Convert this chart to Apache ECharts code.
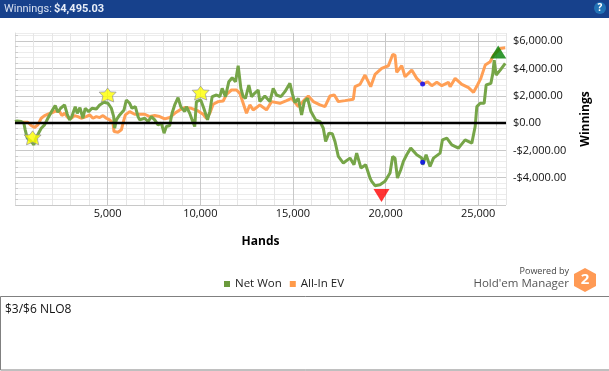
<!DOCTYPE html>
<html>
<head>
<meta charset="utf-8">
<title>Winnings</title>
<script src="https://cdn.jsdelivr.net/npm/echarts@6/dist/echarts.min.js"></script>
<style>
  html, body { margin: 0; padding: 0; background: #fff; }
  #chart { width: 609px; height: 371px; }
</style>
</head>
<body>
<div id="chart"></div>
<script>
// [hands, dollars]
var netWon = [
  [0,113],[120,160],[330,113],[480,-9],[550,-495],[660,-1104],[840,-1298],[1020,-1590],[1130,-1104],[1270,-739],
  [1415,-374],[1595,-130],[1775,356],[1990,891],[2170,1281],[2315,794],[2460,1086],[2675,1329],[2820,648],[2945,234],
  [3070,478],[3250,1208],[3360,721],[3505,1135],[3665,356],[3790,1086],[3975,843],[4155,1086],[4390,1037],[4570,1329],
  [4800,1524],[5020,1451],[5200,1086],[5325,478],[5380,-374],[5470,234],[5650,600],[5885,964],[6010,1694],[6190,1451],
  [6315,1086],[6495,1208],[6640,478],[6730,234],[6820,235],[7000,356],[7180,113],[7360,478],[7540,235],[7720,-130],
  [7900,-9],[8045,-739],[8170,-252],[8350,-179],[8475,721],[8620,1330],[8800,1865],[8945,1208],[9160,843],[9250,1208],
  [9430,721],[9560,235],[9700,-252],[9790,1573],[10025,1694],[10190,1086],[10390,235],[10515,843],[10640,1938],[10875,2059],
  [11055,1938],[11180,2546],[11360,1938],[11540,3033],[11720,3325],[11900,3033],[12045,4200],[12190,2546],[12315,1938],[12440,1816],
  [12620,2790],[12765,1938],[12945,2200],[13125,2424],[13215,1573],[13485,1986],[13755,1573],[13935,2546],[14115,2059],[14350,1938],
  [14567,2303],[14837,2911],[14963,2181],[15107,1500],[15288,1816],[15468,600],[15612,1573],[15792,1816],[15972,843],[16225,235],
  [16458,113],[16640,-374],[16765,-1347],[16945,-739],[17125,-787],[17270,-1347],[17450,-2442],[17720,-2928],[18080,-2563],[18295,-3050],
  [18440,-2198],[18675,-3293],[18927,-3050],[19160,-4023],[19250,-4267],[19430,-4583],[19700,-4510],[19970,-4267],[20240,-3659],[20385,-2442],
  [20510,-2564],[20640,-4023],[20820,-3415],[20962,-2807],[21142,-2320],[21358,-1834],[21682,-2320],[21953,-2564],[22007,-3050],[22187,-2320],
  [22400,-3172],[22585,-2564],[22945,-2199],[23070,-1226],[23305,-1104],[23575,-1591],[23935,-1834],[24295,-1226],[24656,-1469],[24836,-250],
  [24926,1208],[25106,1451],[25322,1451],[25430,2790],[25683,2911],[25790,3641],[25863,4614],[25970,3519],[26187,3884],[26458,4371]
];
var allInEv = [
  [0,113],[330,64],[690,64],[875,-179],[1055,-325],[1235,-130],[1415,356],[1595,551],[1775,648],[2045,794],
  [2225,891],[2405,843],[2530,551],[2675,721],[2855,405],[3035,356],[3215,551],[3395,478],[3575,356],[3845,478],
  [4030,600],[4205,356],[4390,478],[4570,405],[4750,551],[4930,356],[5110,234],[5290,-9],[5345,-617],[5560,-666],
  [5740,-495],[5830,-9],[5955,600],[6190,843],[6460,648],[6730,648],[7000,648],[7270,478],[7540,551],[7810,478],
  [8080,308],[8350,405],[8620,721],[8890,965],[9160,1135],[9520,1086],[9880,892],[10150,648],[10330,356],[10515,721],
  [10695,1378],[10965,1573],[11235,1621],[11415,2108],[11685,2424],[11955,2424],[12135,2181],[12315,1451],[12495,721],[12675,1330],
  [12855,965],[13035,1135],[13215,1330],[13575,965],[13845,1573],[14297,1451],[14657,1646],[14927,1816],[15288,1208],[15648,1743],
  [15828,1986],[16100,1573],[16458,1330],[16729,1208],[17000,1986],[17234,2059],[17450,1573],[17810,1646],[18260,1743],[18350,2668],
  [18620,2838],[18890,3519],[19197,2668],[19431,3568],[19791,4006],[20152,4201],[20386,5028],[20510,4980],[20602,3714],[20873,4201],
  [21053,3398],[21413,3884],[21684,3276],[22008,2838],[22260,3033],[22494,2741],[22765,2984],[23035,2741],[23396,2984],[23486,2668],
  [23756,3276],[24116,2838],[24477,2595],[24747,2254],[24962,2790],[25142,3276],[25377,4249],[25647,4492],[25827,4979],[26187,5466],
  [26458,5514]
];
var stars = [[950,-1080],[5000,2060],[10020,2200]];
var blueDots = [[22000,2860],[22000,-2870]];
var lowMark = [[19780,-5310]];
var highMark = [[26080,5200]];

var zeroLine = [[0,0],[26500,0]];

var labelFont = '"Open Sans", sans-serif';
var headerFont = 'Roboto, sans-serif';
var starPath = 'path://M50 0 L67 28 L100 30 L78 58 L86 100 L50 82 L14 100 L22 58 L0 30 L33 28 Z';

function money(v) {
  var s = Math.abs(v).toLocaleString('en-US', { minimumFractionDigits: 2, maximumFractionDigits: 2 });
  return (v < 0 ? '-$' : '$') + s;
}

var chart = echarts.init(document.getElementById('chart'));
chart.setOption({
  animation: false,
  grid: { left: 15, right: 103, top: 33, bottom: 166 },
  legend: {
    left: 219, top: 273,
    data: ['Net Won', 'All-In EV'],
    icon: 'rect', itemWidth: 6, itemHeight: 6, itemGap: 8,
    textStyle: { fontFamily: labelFont, fontSize: 11.5, color: '#222' }
  },
  xAxis: {
    type: 'value', min: 0, max: 26500, interval: 1000,
    name: 'Hands', nameLocation: 'middle', nameGap: 31,
    nameTextStyle: { fontFamily: labelFont, fontSize: 12, fontWeight: 'bold', color: '#000' },
    axisLine: { lineStyle: { color: '#ccc' } },
    axisTick: { length: 3, lineStyle: { color: '#ccc' } },
    axisLabel: {
      fontFamily: labelFont, fontSize: 11, color: '#111', margin: 3, showMinLabel: false, showMaxLabel: false,
      formatter: function (v) { return v % 5000 === 0 ? v.toLocaleString('en-US') : ''; }
    },
    // ticks start at 0, so every fifth line is the darker 5,000 one
    splitLine: { show: true, lineStyle: { color: ['#c8c8c8', '#e6e6e6', '#e6e6e6', '#e6e6e6', '#e6e6e6'] } }
  },
  yAxis: {
    type: 'value', position: 'right', min: -6000, max: 6600, interval: 400,
    name: 'Winnings', nameLocation: 'middle', nameGap: 74, nameRotate: 90,
    nameTextStyle: { fontFamily: labelFont, fontSize: 12, fontWeight: 'bold', color: '#000' },
    axisLine: { show: true, lineStyle: { color: '#ddd' } },
    axisTick: { show: true, length: 3, lineStyle: { color: '#ccc' } },
    axisLabel: {
      fontFamily: labelFont, fontSize: 11, color: '#111', margin: 7, padding: [3, 0, 0, 0], showMinLabel: false, showMaxLabel: false,
      formatter: function (v) { return v % 2000 === 0 ? money(v) : ''; }
    },
    splitLine: { show: true, lineStyle: { color: ['#c8c8c8', '#ececec', '#ececec', '#ececec', '#ececec'] } }
  },
  series: [
    {
      name: 'Net Won', type: 'line', data: netWon, showSymbol: false, z: 4,
      itemStyle: { color: '#6b9a3c' }, lineStyle: { color: '#76a548', width: 3, join: 'bevel', cap: 'butt' }
    },
    {
      name: 'All-In EV', type: 'line', data: allInEv, showSymbol: false, z: 3,
      itemStyle: { color: '#ff9a4a' }, lineStyle: { color: '#ff9f55', width: 3, join: 'bevel', cap: 'butt' }
    },
    {
      name: 'zero', type: 'line', data: zeroLine, showSymbol: false, z: 5,
      lineStyle: { color: '#000', width: 2.5 }
    },
    {
      name: 'stars', type: 'scatter', data: stars, symbol: starPath, symbolSize: [17, 14], symbolKeepAspect: false, z: 6,
      itemStyle: { color: '#ffff00', borderColor: '#8888a0', borderWidth: 0.8 }
    },
    {
      name: 'blue', type: 'scatter', data: blueDots, symbolSize: 5, z: 6,
      itemStyle: { color: '#0000ff' }
    },
    {
      name: 'low', type: 'scatter', data: lowMark, symbol: 'triangle', symbolSize: [16, 13], symbolRotate: 180, z: 6,
      itemStyle: { color: '#ff0000' }
    },
    {
      name: 'high', type: 'scatter', data: highMark, symbol: 'triangle', symbolSize: [16, 13], z: 6,
      itemStyle: { color: '#008000' }
    }
  ],
  graphic: [
    // title bar
    { type: 'rect', shape: { x: 0, y: 0, width: 609, height: 18 }, style: { fill: '#17418c' } },
    { type: 'text', x: 4, y: 9, style: { text: 'Winnings:', fill: '#d7e0f0', font: '11px ' + headerFont, textVerticalAlign: 'middle' } },
    { type: 'text', x: 54, y: 9, style: { text: '$4,495.03', fill: '#e8eef8', font: 'bold 11px ' + headerFont, textVerticalAlign: 'middle' } },
    { type: 'circle', shape: { cx: 600, cy: 8, r: 6 }, style: { fill: '#2272b5' } },
    { type: 'text', x: 600, y: 8, style: { text: '?', fill: '#fff', font: 'bold 10px ' + labelFont, textAlign: 'center', textVerticalAlign: 'middle' } },
    // logo
    { type: 'text', x: 569, y: 271, style: { text: 'Powered by', fill: '#444', font: '9px ' + labelFont, textAlign: 'right', textVerticalAlign: 'middle' } },
    { type: 'text', x: 569, y: 284, style: { text: "Hold'em Manager", fill: '#555', font: '11.5px ' + labelFont, textAlign: 'right', textVerticalAlign: 'middle' } },
    { type: 'polygon', shape: { points: [[585, 268], [596, 274], [596, 286], [585, 292], [574, 286], [574, 274]] }, style: { fill: '#ff9a55' } },
    { type: 'text', x: 585, y: 280, style: { text: '2', fill: '#fff', font: 'bold 15px ' + labelFont, textAlign: 'center', textVerticalAlign: 'middle' } },
    // notes box
    { type: 'rect', shape: { x: 0.5, y: 296.5, width: 620, height: 73.5 }, style: { fill: '#fff', stroke: '#808080', lineWidth: 1 } },
    { type: 'text', x: 5, y: 310, style: { text: '$3/$6 NLO8', fill: '#111', font: '12px ' + labelFont, textVerticalAlign: 'middle' } }
  ]
});
</script>
</body>
</html>
